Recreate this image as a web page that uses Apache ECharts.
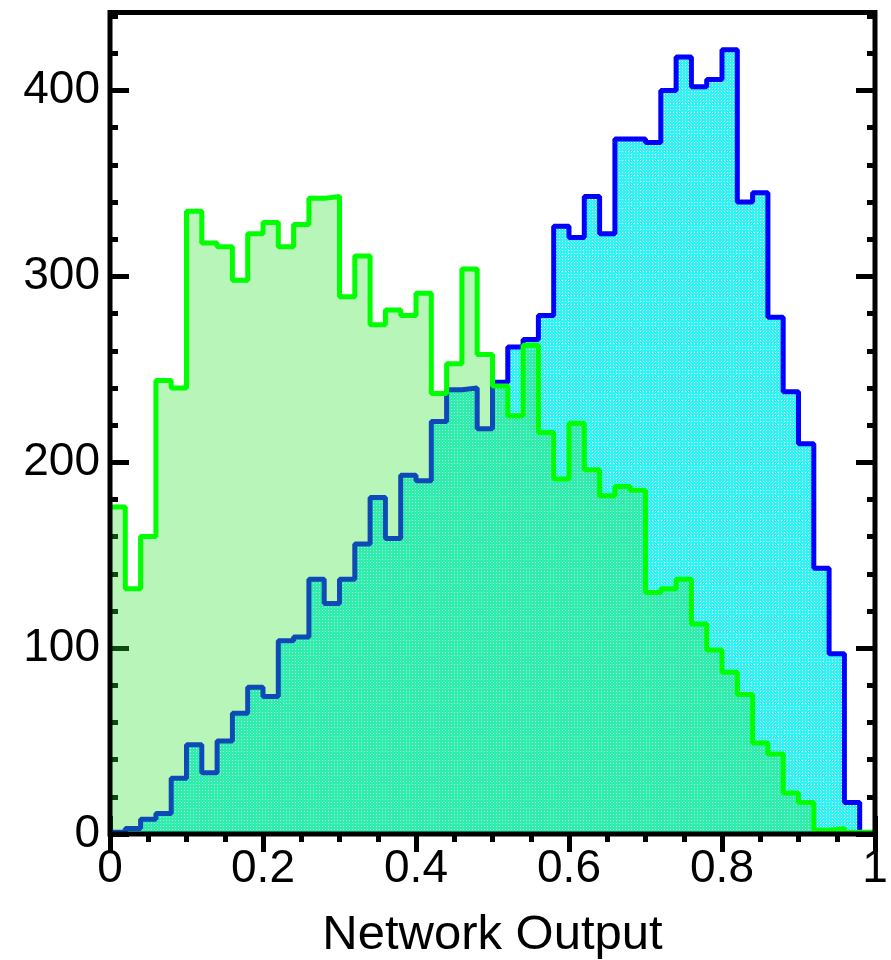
<!DOCTYPE html>
<html>
<head>
<meta charset="utf-8">
<script src="https://cdn.jsdelivr.net/npm/echarts@6/dist/echarts.min.js"></script>
<style>
html, body { margin: 0; padding: 0; background: #fff; }
#chart { width: 891px; height: 960px; }
</style>
</head>
<body>
<div id="chart"></div>
<script>
// histogram bins: 50 bins of width 0.02 between 0 and 1
var binWidth = 0.02;
var xTickLabels = ['0', '0.2', '0.4', '0.6', '0.8', '1'];
var yTickLabels = ['0', '100', '200', '300', '400'];

// blue (cyan filled) histogram
var signal = [1, 3, 8, 11, 30, 48, 33, 50, 65, 79,
    74, 104, 106, 137, 124, 137, 156, 181, 159, 193,
    190, 222, 239, 240, 218, 243, 262, 266, 279, 327,
    321, 343, 323, 374, 374, 372, 400, 418, 402, 406,
    422, 340, 345, 278, 238, 210, 143, 97, 17, 0];

// green histogram
var background = [176, 132, 160, 244, 240, 335, 318, 316, 298, 323,
    329, 316, 328, 342, 343, 289, 311, 274, 282, 279,
    291, 237, 253, 304, 258, 241, 225, 263, 216, 191,
    221, 196, 182, 187, 185, 130, 132, 137, 113, 99,
    87, 75, 49, 43, 22, 17, 2, 3, 1, 1];

function toSteps(vals) {
    var pts = vals.map(function (v, i) { return [i * binWidth, v]; });
    pts.push([vals.length * binWidth, vals[vals.length - 1]]);
    return pts;
}

// dotted fill pattern for the cyan histogram
function makeTile(size, bg, color, cells) {
    var c = document.createElement('canvas');
    c.width = size; c.height = size;
    var ctx = c.getContext('2d');
    if (bg) { ctx.fillStyle = bg; ctx.fillRect(0, 0, size, size); }
    ctx.fillStyle = color;
    cells.forEach(function (p) { ctx.fillRect(p[0], p[1], 1, 1); });
    return c;
}
var cyanTile = makeTile(3, '#ffffff', '#30f4f4', [[0, 0], [1, 0], [2, 0], [0, 1], [2, 1], [0, 2], [1, 2], [2, 2]]);

var font = 'Liberation Sans, Arial, Helvetica, sans-serif';
var myChart = echarts.init(document.getElementById('chart'));

var tickStyle = { color: '#000', width: 5 };
var option = {
    animation: false,
    grid: {
        left: 110, right: 16, top: 12.5, bottom: 126,
        outerBoundsMode: 'none', containLabel: false,
        show: true, borderColor: '#000', borderWidth: 5,
        backgroundColor: 'transparent', z: 10
    },
    xAxis: [{
        type: 'value', position: 'bottom', min: 0, max: 1, interval: 0.2,
        axisLine: { show: false },
        axisTick: { show: true, inside: true, length: 18, lineStyle: tickStyle },
        minorTick: { show: true, splitNumber: 4, length: 8, lineStyle: tickStyle },
        splitLine: { show: false },
        axisLabel: {
            margin: 12, fontSize: 46, color: '#000', fontFamily: font,
            formatter: function (v, i) { return xTickLabels[i]; }
        },
        name: 'Network Output', nameLocation: 'middle', nameGap: 77,
        nameTextStyle: { fontSize: 49, color: '#000', fontFamily: font }
    }, {
        type: 'value', position: 'top', min: 0, max: 1, interval: 0.2,
        axisLine: { show: false },
        axisTick: { show: true, inside: true, length: 18, lineStyle: tickStyle },
        minorTick: { show: true, splitNumber: 4, length: 8, lineStyle: tickStyle },
        splitLine: { show: false },
        axisLabel: { show: false }
    }],
    yAxis: [{
        type: 'value', position: 'left', min: 0, max: 442, interval: 100,
        axisLine: { show: false },
        axisTick: { show: true, inside: true, length: 19, lineStyle: tickStyle },
        splitLine: { show: false },
        axisLabel: {
            margin: 10, fontSize: 46, color: '#000', fontFamily: font,
            showMaxLabel: false,
            formatter: function (v, i) { return yTickLabels[i]; }
        }
    }, {
        type: 'value', position: 'left', min: 0, max: 442, interval: 20,
        axisLine: { show: false },
        axisTick: { show: true, inside: true, length: 8, lineStyle: tickStyle },
        splitLine: { show: false },
        axisLabel: { show: false }
    }, {
        type: 'value', position: 'right', min: 0, max: 442, interval: 100,
        axisLine: { show: false },
        axisTick: { show: true, inside: true, length: 19, lineStyle: tickStyle },
        splitLine: { show: false },
        axisLabel: { show: false }
    }, {
        type: 'value', position: 'right', min: 0, max: 442, interval: 20,
        axisLine: { show: false },
        axisTick: { show: true, inside: true, length: 8, lineStyle: tickStyle },
        splitLine: { show: false },
        axisLabel: { show: false }
    }],
    series: [{
        name: 'signal', type: 'line', step: 'end', z: 3,
        showSymbol: false, symbol: 'none',
        data: toSteps(signal),
        lineStyle: { color: '#0000ff', width: 5 },
        areaStyle: { color: { image: cyanTile, repeat: 'repeat' }, opacity: 1 }
    }, {
        name: 'background', type: 'line', step: 'end', z: 4,
        showSymbol: false, symbol: 'none',
        data: toSteps(background),
        lineStyle: { color: '#00ff00', width: 5 },
        areaStyle: { color: 'rgba(40,225,40,0.33)', opacity: 1 }
    }]
};
myChart.setOption(option);
</script>
</body>
</html>
